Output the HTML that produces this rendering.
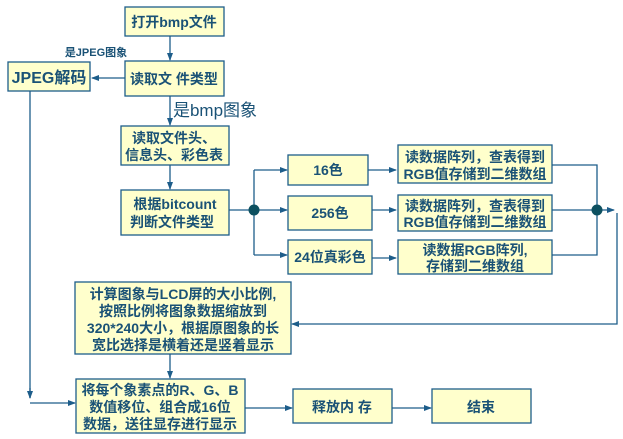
<!DOCTYPE html>
<html><head><meta charset="utf-8"><style>
html,body{margin:0;padding:0;background:#fff;}
svg{display:block;}
text{font-family:"Liberation Sans","Noto Sans CJK SC","WenQuanYi Zen Hei",sans-serif;font-weight:bold;fill:#1a5276;font-size:14px;text-anchor:middle;}
rect{fill:#ffffcc;stroke:#1d5d8a;stroke-width:1.3;}
line,polyline{stroke:#1d5d8a;stroke-width:1.3;fill:none;}
</style></head><body>
<svg width="623" height="439" viewBox="0 0 623 439" xmlns="http://www.w3.org/2000/svg">
<defs><marker id="a" markerWidth="8" markerHeight="6" refX="7" refY="3" orient="auto" markerUnits="userSpaceOnUse"><path d="M0,0 L8,3 L0,6 Z" fill="#1d5d8a"/></marker></defs>
<!-- connectors -->
<line x1="170" y1="36" x2="170" y2="60" marker-end="url(#a)"/>
<line x1="125" y1="78" x2="92" y2="78" marker-end="url(#a)"/>
<line x1="170" y1="96" x2="170" y2="125" marker-end="url(#a)"/>
<line x1="170" y1="165" x2="170" y2="189" marker-end="url(#a)"/>
<line x1="229" y1="210" x2="254" y2="210"/>
<polyline points="254,170 254,255"/>
<line x1="254" y1="170" x2="287" y2="170" marker-end="url(#a)"/>
<line x1="254" y1="210" x2="287" y2="210" marker-end="url(#a)"/>
<line x1="254" y1="255" x2="287" y2="255" marker-end="url(#a)"/>
<line x1="368" y1="170" x2="396" y2="170" marker-end="url(#a)"/>
<line x1="372" y1="210" x2="396" y2="210" marker-end="url(#a)"/>
<line x1="372" y1="258" x2="396" y2="258" marker-end="url(#a)"/>
<polyline points="552,165 597,165 597,255 552,255"/>
<line x1="552" y1="210" x2="614" y2="210" marker-end="url(#a)"/>
<polyline points="617,213 617,324 292,324" marker-end="url(#a)"/>
<circle cx="254" cy="210" r="5.5" fill="#0d5060"/>
<circle cx="597" cy="210" r="5.5" fill="#0d5060"/>
<polyline points="30,91 30,398"/>
<line x1="30" y1="388" x2="30" y2="398" marker-end="url(#a)"/>
<line x1="30" y1="403" x2="75" y2="403" marker-end="url(#a)"/>
<line x1="170" y1="354" x2="170" y2="378" marker-end="url(#a)"/>
<line x1="245" y1="408" x2="292" y2="408" marker-end="url(#a)"/>
<line x1="392" y1="408" x2="431" y2="408" marker-end="url(#a)"/>
<!-- boxes -->
<rect x="125" y="7" width="99" height="29"/>
<text x="174" y="27">打开bmp文件</text>
<rect x="125" y="61" width="99" height="35"/>
<text x="174" y="84">读取文 件类型</text>
<rect x="8" y="62" width="82" height="29"/>
<text x="49" y="83" style="font-size:16px">JPEG解码</text>
<text x="96" y="56" style="font-size:11px">是JPEG图象</text>
<text x="215" y="116" style="font-size:17px;font-weight:normal">是bmp图象</text>
<rect x="121" y="126" width="108" height="39"/>
<text x="174" y="143">读取文件头、</text>
<text x="174" y="160">信息头、彩色表</text>
<rect x="121" y="190" width="108" height="45"/>
<text x="175" y="209">根据bitcount</text>
<text x="172" y="227">判断文件类型</text>
<rect x="288" y="155" width="80" height="30"/>
<text x="328" y="175">16色</text>
<rect x="288" y="196" width="84" height="34"/>
<text x="330" y="218">256色</text>
<rect x="288" y="240" width="84" height="34"/>
<text x="330" y="262">24位真彩色</text>
<rect x="398" y="145" width="154" height="38"/>
<text x="475" y="162">读数据阵列，查表得到</text>
<text x="475" y="179">RGB值存储到二维数组</text>
<rect x="398" y="195" width="154" height="36"/>
<text x="475" y="211">读数据阵列，查表得到</text>
<text x="475" y="227">RGB值存储到二维数组</text>
<rect x="398" y="240" width="154" height="34"/>
<text x="475" y="255">读数据RGB阵列,</text>
<text x="475" y="271">存储到二维数组</text>
<rect x="75" y="282" width="216" height="72"/>
<text x="183" y="299">计算图象与LCD屏的大小比例,</text>
<text x="183" y="316">按照比例将图象数据缩放到</text>
<text x="183" y="333">320*240大小，根据原图象的长</text>
<text x="183" y="350">宽比选择是横着还是竖着显示</text>
<rect x="76" y="379" width="169" height="54"/>
<text x="160" y="395">将每个象素点的R、G、B</text>
<text x="160" y="412">数值移位、组合成16位</text>
<text x="160" y="429">数据，送往显存进行显示</text>
<rect x="293" y="389" width="99" height="34"/>
<text x="342" y="412">释放内 存</text>
<rect x="432" y="389" width="99" height="34"/>
<text x="481" y="412">结束</text>
</svg>
</body></html>
